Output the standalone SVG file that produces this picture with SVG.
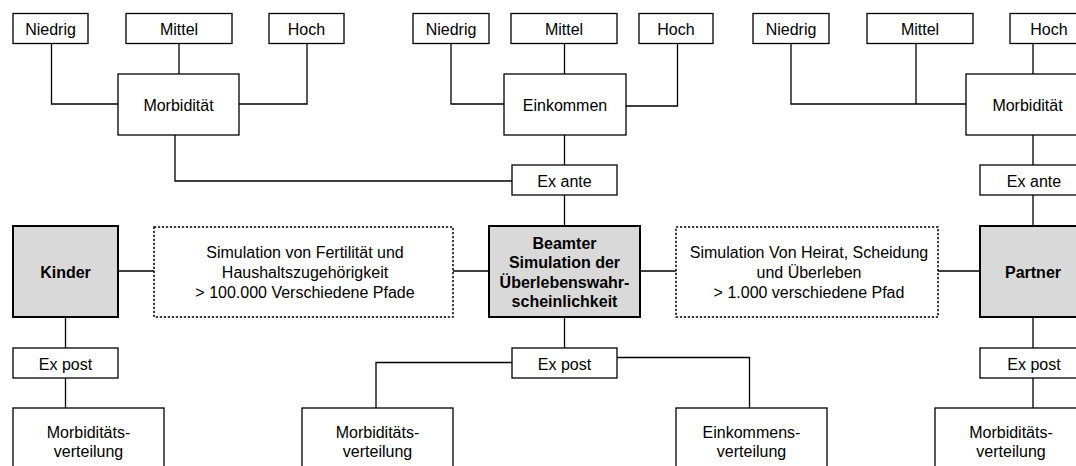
<svg xmlns="http://www.w3.org/2000/svg" width="1076" height="466" viewBox="0 0 1076 466">
<style>
.b{fill:#fff;stroke:#000;stroke-width:1.3}
.g{fill:#d9d9d9;stroke:#000;stroke-width:2}
.d{fill:#fff;stroke:#000;stroke-width:1.5;stroke-dasharray:2.2 1.8}
.c{fill:none;stroke:#000;stroke-width:1.3}
text{font-family:"Liberation Sans",Arial,sans-serif;font-size:16px;fill:#000;text-anchor:middle}
.t{font-weight:bold}
</style>
<rect width="1076" height="466" fill="#fff"/>
<g id="connectors">
<path class="c" d="M51.5 43.5V104H118M179 43.5V74M307 43.5V104H239M175 135V181H512"/>
<path class="c" d="M451 43.5V104H504M564.5 43.5V74M677.5 43.5V106H626M564.5 135V165M564.5 195V226"/>
<path class="c" d="M791 43.5V104H966M916 43.5V104M1033 43.5V74M1033 135V165M1033 195V226"/>
<path class="c" d="M118 271H154M453 271H489M640 271H676M938 271H980"/>
<path class="c" d="M65.5 317V348M65.5 378V408M564.5 317V348M512 362.5H376V408M617 357.5H749.5V408M1033 317V348M1033 378V408"/>
</g>
<g id="l-niedrig"><rect class="b" x="13" y="13.5" width="75" height="30"/><text x="50.5" y="35">Niedrig</text></g>
<g id="l-mittel"><rect class="b" x="126" y="13.5" width="106" height="30"/><text x="179" y="35">Mittel</text></g>
<g id="l-hoch"><rect class="b" x="269" y="13.5" width="75" height="30"/><text x="306.5" y="35">Hoch</text></g>
<g id="l-morb"><rect class="b" x="118" y="74" width="121" height="61"/><text x="178.5" y="111">Morbidität</text></g>
<g id="m-niedrig"><rect class="b" x="413" y="13.5" width="76" height="30"/><text x="451" y="35">Niedrig</text></g>
<g id="m-mittel"><rect class="b" x="511" y="13.5" width="106" height="30"/><text x="564" y="35">Mittel</text></g>
<g id="m-hoch"><rect class="b" x="639" y="13.5" width="74" height="30"/><text x="676" y="35">Hoch</text></g>
<g id="m-eink"><rect class="b" x="504" y="74" width="122" height="61"/><text x="565" y="111">Einkommen</text></g>
<g id="m-exante"><rect class="b" x="512" y="165" width="105" height="30"/><text x="564.5" y="186.5">Ex ante</text></g>
<g id="r-niedrig"><rect class="b" x="753" y="13.5" width="76" height="30"/><text x="791" y="35">Niedrig</text></g>
<g id="r-mittel"><rect class="b" x="867" y="13.5" width="106" height="30"/><text x="920" y="35">Mittel</text></g>
<g id="r-hoch"><rect class="b" x="1010" y="13.5" width="76" height="30"/><text x="1049" y="35">Hoch</text></g>
<g id="r-morb"><rect class="b" x="966" y="74" width="122" height="61"/><text x="1027.5" y="111">Morbidität</text></g>
<g id="r-exante"><rect class="b" x="980" y="165" width="106" height="30"/><text x="1034" y="186.5">Ex ante</text></g>
<g id="kinder"><rect class="g" x="13" y="226" width="105" height="91"/><text class="t" x="65.5" y="278">Kinder</text></g>
<g id="sim-fert"><rect class="d" x="154" y="227" width="299" height="90"/><text x="305" y="258.3">Simulation von Fertilität und</text><text x="305" y="278">Haushaltszugehörigkeit</text><text x="305" y="297.7">&gt; 100.000 Verschiedene Pfade</text></g>
<g id="beamter"><rect class="g" x="489" y="226" width="151" height="91"/><text class="t" x="564.5" y="248.5">Beamter</text><text class="t" x="564.5" y="268">Simulation der</text><text class="t" x="564.5" y="288">Überlebenswahr-</text><text class="t" x="564.5" y="307">scheinlichkeit</text></g>
<g id="sim-heirat"><rect class="d" x="676" y="227" width="262" height="90"/><text x="809" y="257.5">Simulation Von Heirat, Scheidung</text><text x="809" y="278">und Überleben</text><text x="809" y="297.7">&gt; 1.000 verschiedene Pfad</text></g>
<g id="partner"><rect class="g" x="980" y="226" width="106" height="91"/><text class="t" x="1033" y="278">Partner</text></g>
<g id="l-expost"><rect class="b" x="13" y="348" width="105" height="30"/><text x="65.5" y="369.5">Ex post</text></g>
<g id="m-expost"><rect class="b" x="512" y="348" width="105" height="30"/><text x="564.5" y="369.5">Ex post</text></g>
<g id="r-expost"><rect class="b" x="980" y="348" width="106" height="30"/><text x="1034" y="369.5">Ex post</text></g>
<g id="l-morbv"><rect class="b" x="13" y="408" width="151" height="70"/><text x="88.5" y="437.5">Morbiditäts-</text><text x="88.5" y="456.5">verteilung</text></g>
<g id="m-morbv"><rect class="b" x="302" y="408" width="151" height="70"/><text x="377.5" y="437.5">Morbiditäts-</text><text x="377.5" y="456.5">verteilung</text></g>
<g id="m-einkv"><rect class="b" x="676" y="408" width="151" height="70"/><text x="751.5" y="437.5">Einkommens-</text><text x="751.5" y="456.5">verteilung</text></g>
<g id="r-morbv"><rect class="b" x="935" y="408" width="151" height="70"/><text x="1011" y="437.5">Morbiditäts-</text><text x="1011" y="456.5">verteilung</text></g>
</svg>
